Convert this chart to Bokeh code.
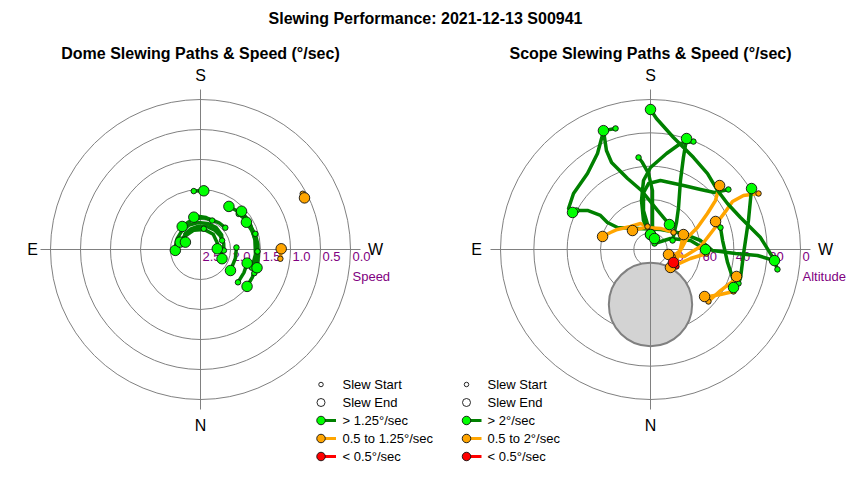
import numpy as np
from bokeh.plotting import figure
from bokeh.layouts import column, row
from bokeh.models import Range1d
from bokeh.core.properties import value
from bokeh.embed import file_html
from bokeh.resources import INLINE

FONT = "Liberation Sans"

# ---------------- texts ----------------
TITLE = "Slewing Performance: 2021-12-13 S00941"
DOME_TITLE = "Dome Slewing Paths & Speed (\u00b0/sec)"
SCOPE_TITLE = "Scope Slewing Paths & Speed (\u00b0/sec)"
compass_labels = ["S", "N", "E", "W"]

# ---------------- dome data (azimuth deg, speed deg/s) ----------------
dome_speed_max = 2.5
dome_ring_speeds = [2.0, 1.5, 1.0, 0.5, 0.0]
dome_tick_values = [2.5, 2.0, 1.5, 1.0, 0.5, 0.0]
dome_tick_labels = ["2.5", "2.0", "1.5", "1.0", "0.5", "0.0"]
dome_axis_title = "Speed"

dome_slew_az = [
    [173.4, 183.2],
    [241.4, 243.6],
    [276.6, 269.5],
    [228.7, 215, 200, 185, 170, 155, 141.5],
    [247.5, 235, 215, 195, 175, 155, 135, 115, 100, 88],
    [189, 170, 150, 130, 110],
    [272.5, 255, 235, 215, 195, 175, 155, 135, 116],
    [202, 190, 178, 168.3],
    [266.8, 284.4, 305],
    [311.2, 298, 286.3],
    [262, 278, 293.2],
    [110, 130, 160, 190, 220, 250, 267.6],
    [227, 240, 255, 270, 285, 298, 308.4],
    [293.7, 280, 265, 250, 235, 222, 213.4],
    [254, 265, 277, 287.9],
    [272, 260, 249, 239.3],
    [289.5, 275, 260, 245, 235, 227],
]
dome_slew_speed = [
    [1.52, 1.52],
    [0.56, 0.565],
    [1.16, 1.155],
    [1.95, 1.96, 1.97, 1.97, 1.98, 2.00, 2.01],
    [2.11, 2.07, 2.05, 2.05, 2.05, 2.05, 2.06, 2.07, 2.08, 2.08],
    [2.15, 2.15, 2.15, 2.15, 2.14],
    [2.11, 2.10, 2.10, 2.10, 2.10, 2.11, 2.12, 2.13, 2.22],
    [1.98, 1.96, 1.95, 1.95],
    [1.90, 1.90, 1.89],
    [1.67, 1.68, 1.69],
    [2.20, 2.15, 2.11],
    [2.15, 2.16, 2.16, 2.16, 2.17, 2.20, 2.22],
    [1.63, 1.58, 1.56, 1.55, 1.54, 1.52, 1.51],
    [1.52, 1.54, 1.55, 1.57, 1.60, 1.62, 1.64],
    [1.55, 1.54, 1.53, 1.51],
    [1.55, 1.57, 1.59, 1.61],
    [1.59, 1.58, 1.58, 1.57, 1.57, 1.565],
]
dome_slew_class = ["fast", "mid", "mid"] + ["fast"] * 14

# ---------------- scope data (azimuth deg, altitude deg) ----------------
scope_ring_alts = [80, 60, 40, 20, 0]
scope_tick_values = [80, 60, 40, 20, 0]
scope_tick_labels = ["80", "60", "40", "20", "0"]
scope_axis_title = "Altitude"

scope_slew_az = [
    [163.9, 158.4],
    [158.4, 151.1, 140.3, 126.0, 116.6, 115.4],
    [158.4, 156.0, 155.9, 162.1, 171.3, 190.2, 217.2],
    [117.8, 121.8, 124.2, 122.1, 123.7, 148.2, 206.6, 243.4, 259.8, 270.9, 272.7, 273.2, 275.1],
    [172.6, 159.0, 139.0, 121.2, 113.0, 105.2],
    [201.7, 195.8, 189.5, 180.0, 174.2, 169.6, 166.4, 180.0],
    [232.4, 228.3, 219.8, 207.3, 188.2, 178.3, 173.0, 169.8, 180.0],
    [172.6, 174.7, 178.5, 181.9, 182.7, 184.8, 200.0],
    [233.5, 205.5, 167.2, 136.5],
    [247.8, 223.9, 213.7, 203.5, 199.7, 198.0],
    [213.7, 241.2, 257.3, 270.0],
    [299.2, 268.1, 245.6],
    [249.5, 266.6, 281.6, 285.5],
    [287.7, 271.9, 252.0, 244.9, 237.7, 233.0, 227.2],
    [242.6, 239.9, 239.7, 243.1, 246.5, 246.7],
    [252.6, 262.9, 279.6, 290.5, 294.6],
    [291.1, 287.3, 272.5, 253.5, 238.9],
    [278.9, 274.2, 263.8, 250.4, 239.1, 228.6, 216.9, 205.1, 191.6, 182.6, 180.0],
    [274.1, 282.7, 312.0],
    [303.2, 299.5],
    [311.9, 300.4, 290.5, 287.4],
    [296.8, 302.7, 309.0, 311.0],
]
scope_slew_alt = [
    [14.4, 13.3],
    [13.5, 24.2, 30.8, 32.9, 35.0, 38.2],
    [13.5, 25.0, 32.8, 45.2, 54.2, 66.2, 71.2],
    [39.8, 45.5, 53.7, 59.5, 66.2, 75.2, 76.6, 68.5, 59.5, 52.8, 38.9, 25.7, 15.3],
    [76.1, 73.3, 71.7, 66.8, 63.9, 60.2],
    [20.3, 23.9, 31.6, 40.8, 48.4, 60.1, 72.1, 81.0],
    [31.0, 38.6, 43.1, 46.8, 48.2, 50.4, 55.6, 66.2, 81.0],
    [34.3, 37.6, 44.4, 54.6, 64.8, 75.5, 83.0],
    [72.8, 76.0, 76.4, 74.3],
    [75.7, 67.5, 59.7, 44.9, 31.4, 20.0],
    [85.7, 76.3, 65.4, 57.0],
    [72.8, 72.0, 68.3],
    [47.1, 59.9, 69.2, 78.8],
    [76.1, 72.0, 66.7, 58.9, 49.6, 41.2, 33.5],
    [17.0, 25.5, 33.0, 39.5, 44.9, 47.5],
    [46.0, 46.4, 43.1, 36.8, 35.2],
    [33.4, 33.4, 34.1, 28.7, 19.2],
    [12.9, 16.0, 23.6, 32.7, 36.2, 36.4, 33.0, 29.1, 21.4, 11.3, 6.0],
    [56.3, 65.4, 73.9],
    [71.4, 74.2],
    [43.3, 41.3, 36.8, 35.9],
    [34.2, 40.1, 45.2, 47.0],
]
scope_slew_class = ["fast", "fast", "fast", "fast", "mid", "fast", "fast", "fast", "mid",
                    "fast", "fast", "mid", "mid", "mid", "mid", "fast", "fast", "fast",
                    "mid", "slow", "mid", "mid"]

# keep-out zone drawn on the scope plot
keepout_az = 0.0
keepout_alt = 57.0
keepout_radius = 25.0

dome_legend_labels = ["Slew Start", "Slew End", "> 1.25\u00b0/sec", "0.5 to 1.25\u00b0/sec", "< 0.5\u00b0/sec"]
scope_legend_labels = ["Slew Start", "Slew End", "> 2\u00b0/sec", "0.5 to 2\u00b0/sec", "< 0.5\u00b0/sec"]

# ---------------- styles ----------------
LINE_COLORS = {"fast": "#008000", "mid": "#FFA500", "slow": "#FF0000"}
FILL_COLORS = {"fast": "#00FF00", "mid": "#FFA500", "slow": "#FF0000"}
GRID_COLOR = "#808080"
TICK_COLOR = "#800080"
EDGE = "#111111"

PAGE_W, PAGE_H = 850, 480
TITLE_H = 35


def polar(az, r):
    a = np.radians(np.asarray(az, dtype=float))
    r = np.asarray(r, dtype=float)
    return -np.sin(a) * r, -np.cos(a) * r


def build_panel(x0, w, cx, cy, s, ring_r, tick_r, tick_txt, axis_title, subtitle,
                compass_px, paths_az, paths_r, classes, leg_x, leg_tx, leg_labels,
                keepout=None):
    h = PAGE_H - TITLE_H
    p = figure(width=w, height=h,
               x_range=Range1d((x0 - cx) / s, (x0 + w - cx) / s),
               y_range=Range1d((cy - PAGE_H) / s, (cy - TITLE_H) / s),
               x_axis_type=None, y_axis_type=None,
               output_backend="svg", toolbar_location=None,
               min_border=0, outline_line_color=None,
               background_fill_color="white", border_fill_color="white")

    def d(px, py):
        return (px - cx) / s, (cy - py) / s

    outer = max(ring_r)
    n = len(ring_r)
    p.circle(x=[0.0] * n, y=[0.0] * n, radius=list(ring_r), fill_color=None,
             line_color=GRID_COLOR, line_width=1)
    if keepout is not None:
        kx, ky = polar([keepout[0]], [keepout[1]])
        p.circle(x=list(kx), y=list(ky), radius=keepout[2], fill_color="#D3D3D3",
                 line_color=GRID_COLOR, line_width=2)
    ext = outer + 10 / s
    p.segment(x0=[-ext, 0], y0=[0, -ext], x1=[ext, 0], y1=[0, ext],
              line_color=GRID_COLOR, line_width=1)

    # subtitle
    tx, ty = d(cx, 53)
    p.text(x=[tx], y=[ty], text=[subtitle], text_font=value(FONT), text_font_size="16px",
           text_font_style="bold", text_align="center", text_baseline="middle",
           text_color="#000000")
    # compass labels
    for lab, (px, py) in zip(compass_labels, compass_px):
        lx, ly = d(px, py)
        p.text(x=[lx], y=[ly], text=[lab], text_font=value(FONT), text_font_size="16px",
               text_align="center", text_baseline="middle", text_color="#000000")
    # tick labels
    p.text(x=[r + 2 / s for r in tick_r], y=[-2 / s] * len(tick_r), text=tick_txt,
           text_font=value(FONT), text_font_size="13px", text_color=TICK_COLOR,
           text_align="left", text_baseline="top")
    p.text(x=[outer + 2 / s], y=[-27 / s], text=[axis_title], text_font=value(FONT),
           text_font_size="13px", text_color=TICK_COLOR, text_align="left",
           text_baseline="middle")

    # paths
    sx, sy, sc, ex, ey, ec = [], [], [], [], [], []
    for az, rr, c in zip(paths_az, paths_r, classes):
        x, y = polar(az, rr)
        p.line(x=list(x), y=list(y), line_color=LINE_COLORS[c], line_width=3.5,
               line_join="round", line_cap="round")
        sx.append(x[0]); sy.append(y[0]); sc.append(FILL_COLORS[c])
        ex.append(x[-1]); ey.append(y[-1]); ec.append(FILL_COLORS[c])
    p.scatter(x=sx, y=sy, size=5.5, marker="circle", fill_color=sc, line_color=EDGE,
              line_width=0.9)
    p.scatter(x=ex, y=ey, size=10.5, marker="circle", fill_color=ec, line_color=EDGE,
              line_width=0.9)

    # legend
    rows_y = [384, 402, 420, 438, 456]
    mx = [d(leg_x, yy)[0] for yy in rows_y]
    my = [d(leg_x, yy)[1] for yy in rows_y]
    p.scatter(x=[mx[0]], y=[my[0]], size=4.5, marker="circle", fill_color="white",
              line_color=EDGE, line_width=0.9)
    p.scatter(x=[mx[1]], y=[my[1]], size=8, marker="circle", fill_color="white",
              line_color=EDGE, line_width=0.9)
    for i, c in zip([2, 3, 4], ["fast", "mid", "slow"]):
        p.line(x=[mx[i], mx[i] + 15 / s], y=[my[i], my[i]], line_color=LINE_COLORS[c],
               line_width=3)
        p.scatter(x=[mx[i]], y=[my[i]], size=8.5, marker="circle", fill_color=FILL_COLORS[c],
                  line_color=EDGE, line_width=0.9)
    txs = [d(leg_tx, yy)[0] for yy in rows_y]
    p.text(x=txs, y=my, text=leg_labels, text_font=value(FONT), text_font_size="13px",
           text_color="#000000", text_align="left", text_baseline="middle")
    return p


# ---------------- title strip ----------------
pt = figure(width=PAGE_W, height=TITLE_H, x_range=Range1d(0, PAGE_W), y_range=Range1d(0, TITLE_H),
            x_axis_type=None, y_axis_type=None, output_backend="svg", toolbar_location=None,
            min_border=0, outline_line_color=None)
pt.text(x=[PAGE_W / 2], y=[TITLE_H - 18], text=[TITLE], text_font=value(FONT),
        text_font_size="16px", text_font_style="bold", text_align="center",
        text_baseline="middle", text_color="#000000")

# ---------------- dome panel ----------------
DS = 60.0  # px per speed unit
dome_r = [[dome_speed_max - v for v in sp] for sp in dome_slew_speed]
p_dome = build_panel(0, 450, 200, 249, DS,
                     [dome_speed_max - v for v in dome_ring_speeds],
                     [dome_speed_max - v for v in dome_tick_values], dome_tick_labels,
                     dome_axis_title, DOME_TITLE,
                     [(200, 75), (200, 425), (32, 249), (375, 249)],
                     dome_slew_az, dome_r, dome_slew_class,
                     320.5, 342, dome_legend_labels)

# ---------------- scope panel ----------------
SS = 150.0 / 90.0  # px per degree
scope_r = [[90 - v for v in al] for al in scope_slew_alt]
p_scope = build_panel(450, 400, 650, 249, SS,
                      [90 - v for v in scope_ring_alts],
                      [90 - v for v in scope_tick_values], scope_tick_labels,
                      scope_axis_title, SCOPE_TITLE,
                      [(650, 75), (650, 425), (476, 249), (825, 249)],
                      scope_slew_az, scope_r, scope_slew_class,
                      466, 487, scope_legend_labels,
                      keepout=(keepout_az, 90 - keepout_alt, keepout_radius))

layout = column(pt, row(p_dome, p_scope, spacing=0), spacing=0)
open("out.html", "w").write(file_html(layout, INLINE))
